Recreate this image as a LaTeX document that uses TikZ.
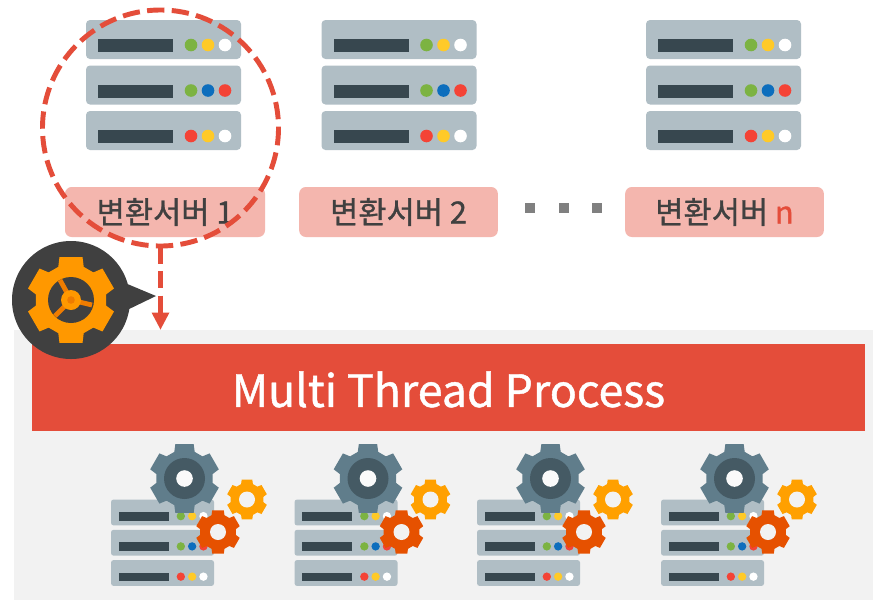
\documentclass[tikz,border=0pt]{standalone}
\usepackage{fontspec}
\setmainfont{Noto Sans CJK KR}[FakeBold=1]
\definecolor{srv}{HTML}{B0BEC5}
\definecolor{srvbar}{HTML}{37474F}
\definecolor{dgreen}{HTML}{7CB342}
\definecolor{dyellow}{HTML}{FFCA28}
\definecolor{dblue}{HTML}{0D6EBD}
\definecolor{dred}{HTML}{F44336}
\definecolor{redbar}{HTML}{E44D3A}
\definecolor{pinkbox}{HTML}{F4B6AE}
\definecolor{bggrey}{HTML}{F2F2F2}
\definecolor{txt}{HTML}{404040}
\definecolor{gearg}{HTML}{607D8B}
\definecolor{gearin}{HTML}{455A64}
\definecolor{gearo}{HTML}{FFA000}
\definecolor{geard}{HTML}{E65100}
\definecolor{callgear}{HTML}{FF9800}
\definecolor{spoke}{HTML}{EF7C00}
\tikzset{
  labelbox/.style={fill=pinkbox,rounded corners=5pt,minimum width=150pt,minimum height=37.5pt,inner sep=0pt,
    text=txt,font=\fontsize{23pt}{26pt}\selectfont},
  dotsq/.style={fill=black!50,minimum size=8.2pt,inner sep=0pt},
  redline/.style={draw=redbar,line width=3.7pt,dash pattern=on 13pt off 5.5pt},
}
\newcommand{\srvrow}[5]{%
  \fill[srv,rounded corners=#1] (0,#2) rectangle (155,#2+39);
  \fill[srvbar] (12,#2+19) rectangle (87,#2+32);
  \fill[#3] (105,#2+25) circle[radius=6.3];
  \fill[#4] (122,#2+25) circle[radius=6.3];
  \fill[#5] (139,#2+25) circle[radius=6.3];
}
\newcommand{\serverstack}[4]{%
  \begin{scope}[shift={(#1,#2)},scale=#3]
    \srvrow{#4}{0}{dgreen}{dyellow}{white}
    \srvrow{#4}{45.5}{dgreen}{dblue}{dred}
    \srvrow{#4}{91}{dred}{dyellow}{white}
  \end{scope}}
% \gearshape{cx}{cy}{outer r}{root r}{colour}
\newcommand{\gearshape}[5]{%
  \fill[#5] ($(#1,#2)+(9:#4)$)
    \foreach \a in {30,90,150,210,270,330}{
      -- ($(#1,#2)+({\a-21}:#4)$) -- ($(#1,#2)+({\a-15}:#3)$) -- ($(#1,#2)+({\a+15}:#3)$) -- ($(#1,#2)+({\a+21}:#4)$)
    } -- cycle;}
\newcommand{\workgroup}[1]{%
  \serverstack{111+#1}{499.5}{0.665}{2pt}
  \gearshape{184.5+#1}{478.5}{35.5}{28.5}{gearg}
  \fill[gearin] (184.5+#1,478.5) circle[radius=20.5];
  \fill[white!60!bggrey] (184.5+#1,478.5) circle[radius=8.3];
  \gearshape{247+#1}{499.5}{20.5}{16.5}{gearo}
  \fill[bggrey] (247+#1,499.5) circle[radius=8];
  \gearshape{218+#1}{532}{22.5}{18}{geard}
  \fill[bggrey] (218+#1,532) circle[radius=8];
}
\usetikzlibrary{calc,arrows.meta}
\begin{document}
\begin{tikzpicture}[x=0.75pt,y=-0.75pt]
\useasboundingbox (0,0) rectangle (873,600);
\fill[white] (0,0) rectangle (873,600);
% top servers
\serverstack{86}{20}{1}{3pt}
\serverstack{321.5}{20}{1}{3pt}
\serverstack{646}{20}{1}{3pt}
% labels
\node[labelbox] (l1) at (165,212) {변환서버 1};
\node[labelbox,minimum width=149pt] (l2) at (398.5,212) {변환서버 2};
\node[labelbox,minimum width=149pt] (l3) at (724.5,212) {변환서버 \textcolor{redbar}{n}};
\node[dotsq] (d1) at (530,208) {};
\node[dotsq] (d2) at (564,208) {};
\node[dotsq] (d3) at (597,208) {};
% lower panel
\fill[bggrey] (14,330) rectangle (873,600);
\node[fill=redbar,minimum width=624.75pt,minimum height=65.25pt,inner sep=0pt] (bar) at (448.5,387.5) {};
\node[text=white,inner sep=0pt,font=\fontsize{33.5pt}{38pt}\selectfont] (bartext) at (448.5,389.5) {Multi Thread Process};
\workgroup{0}
\workgroup{183.5}
\workgroup{366}
\workgroup{550}
% callout
\node[circle,fill=txt,minimum size=88.5pt,inner sep=0pt] (call) at (71,300) {};
\coordinate (tip) at (156,296);
\fill[txt] (125,283) -- (tip) -- (125,311) -- cycle;
\gearshape{71}{300}{44.5}{35.5}{callgear}
\fill[txt] (71,300) circle[radius=23];
\draw[spoke,line width=3.6pt] (71,300) -- (60,280) (71,300) -- (92,305) (71,300) -- (55,316);
\fill[callgear] (71,300) circle[radius=10];
\fill[spoke] (71,300) circle[radius=3.8];
% dashed focus circle and connector
\node[circle,minimum size=177pt,inner sep=0pt] (focus) at (160.5,128) {};
\draw[redline] (focus.center) circle[radius=118];
\coordinate (arrowend) at (160.5,313);
\draw[redline] (focus.south) -- (arrowend);
\fill[redbar] (151.5,312.5) -- (169.5,312.5) -- (160.5,329.5) -- cycle;
\end{tikzpicture}
\end{document}
